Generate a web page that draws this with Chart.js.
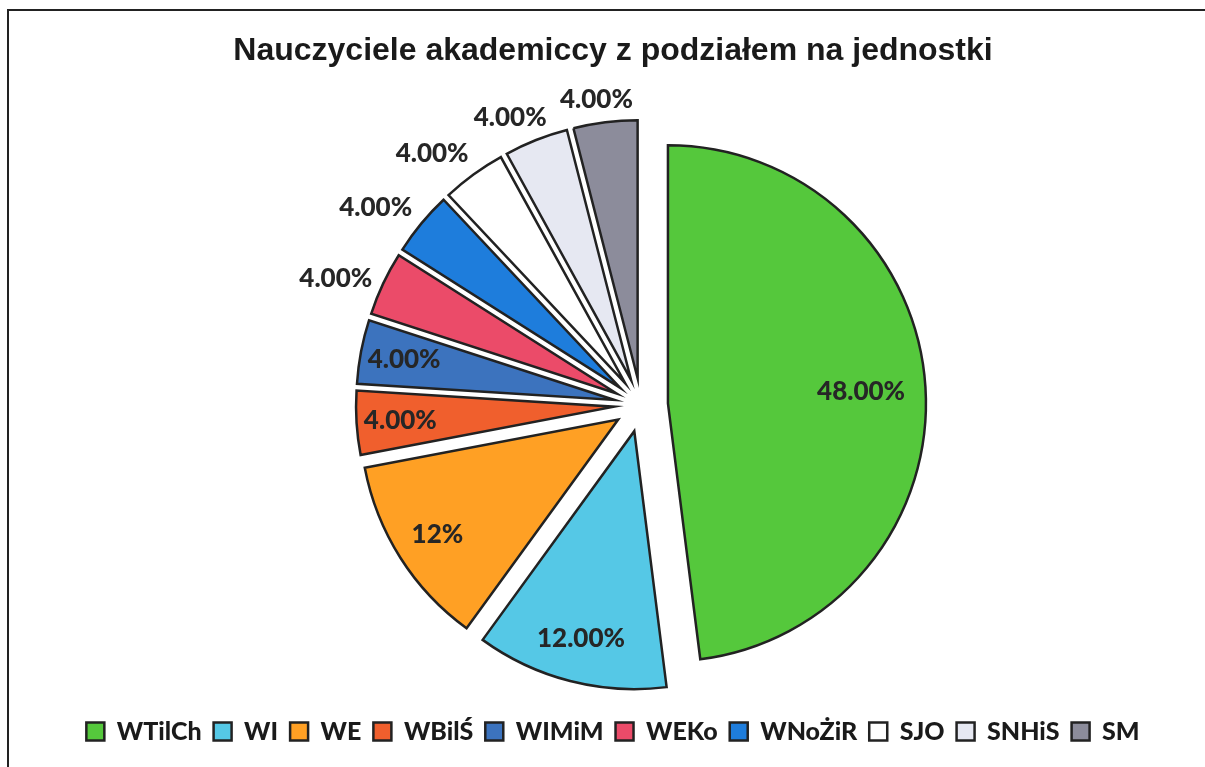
<!DOCTYPE html>
<html><head><meta charset="utf-8">
<script src="https://cdn.jsdelivr.net/npm/chart.js@4/dist/chart.umd.min.js"></script>
<style>
html,body{margin:0;padding:0;background:#fff;overflow:hidden;width:1205px;height:767px;}
#c{position:absolute;left:0;top:0;}
#frame{position:absolute;left:7px;top:9px;width:3000px;height:3000px;border-left:2px solid #222;border-top:2px solid #222;pointer-events:none;}
</style></head><body>
<canvas id="c" width="1226" height="767"></canvas>
<div id="frame"></div>
<script>
const categories = ['WTilCh','WI','WE','WBilŚ','WIMiM','WEKo','WNoŻiR','SJO','SNHiS','SM'];
const shares = [48,12,12,4,4,4,4,4,4,4];
const labelTexts = ['48.00%','12.00%','12%','4.00%','4.00%','4.00%','4.00%','4.00%','4.00%','4.00%'];
const labelPlacement = ['in','in','in','in','in','out','out','out','out','out'];
const sliceColors = ['#55c83c','#55c8e6','#ffa024','#f05f2d','#3c73be','#eb4b69','#1e7ddc','#ffffff','#e6e8f2','#8c8c9b'];
const chartTitle = 'Nauczyciele akademiccy z podziałem na jednostki';

const EXPLODE = 27;
const SHIFT_X = 56;

const piePlugin = {
  id: 'explodeAndLabels',
  afterLayout(chart) {
    const a = chart.chartArea;
    a.left += SHIFT_X;
    a.width = a.right - a.left;
  },
  beforeDatasetsDraw(chart) {
    chart.getDatasetMeta(0).data.forEach(arc => {
      const mid = (arc.startAngle + arc.endAngle) / 2;
      arc._ox = arc.x; arc._oy = arc.y;
      arc.x += Math.cos(mid) * EXPLODE;
      arc.y += Math.sin(mid) * EXPLODE;
    });
  },
  afterDatasetsDraw(chart) {
    const ctx = chart.ctx;
    const meta = chart.getDatasetMeta(0);
    ctx.save();
    ctx.font = '900 26px Lato';
    ctx.fillStyle = '#262626';
    ctx.textAlign = 'center';
    ctx.textBaseline = 'middle';
    const cl = v => Math.max(-1, Math.min(1, v * 1.6));
    const vy = v => Math.sign(v) * Math.max(0, Math.min(1, (Math.abs(v) - 0.45) * 4));
    meta.data.forEach((arc, i) => {
      const mid = (arc.startAngle + arc.endAngle) / 2;
      const dx = Math.cos(mid), dy = Math.sin(mid);
      const R = arc.outerRadius;
      let x, y;
      if (labelPlacement[i] === 'in') {
        const f = (arc.endAngle - arc.startAngle) > Math.PI / 2 ? 0.75 : 0.83;
        x = arc.x + dx * R * f;
        y = arc.y + dy * R * f;
      } else {
        const hw = ctx.measureText(labelTexts[i]).width / 2, hh = 11, g = 12;
        x = arc.x + dx * (R + g) + cl(dx) * hw;
        y = arc.y + dy * (R + g) + vy(dy) * hh;
      }
      ctx.fillText(labelTexts[i], x, y);
    });
    ctx.restore();
    meta.data.forEach(arc => { arc.x = arc._ox; arc.y = arc._oy; });
  }
};

new Chart(document.getElementById('c'), {
  type: 'pie',
  data: {
    labels: categories,
    datasets: [{
      data: shares,
      backgroundColor: sliceColors,
      borderColor: '#222222',
      borderWidth: 2.5,
      borderJoinStyle: 'miter',
      radius: 258,
      clip: false
    }]
  },
  options: {
    responsive: false,
    devicePixelRatio: 1,
    animation: false,
    events: [],
    layout: { padding: { bottom: 13 } },
    plugins: {
      tooltip: { enabled: false },
      title: {
        display: true,
        text: chartTitle,
        color: '#1a1a1a',
        font: { family: 'Liberation Sans', size: 32, weight: 'bold' },
        padding: { top: 32, bottom: 32.6 }
      },
      legend: {
        position: 'bottom',
        labels: {
          color: '#1a1a1a',
          font: { family: 'Lato', size: 25, weight: '900' },
          boxWidth: 18,
          boxHeight: 18,
          padding: 12
        }
      }
    }
  },
  plugins: [piePlugin]
});
</script>
</body></html>
